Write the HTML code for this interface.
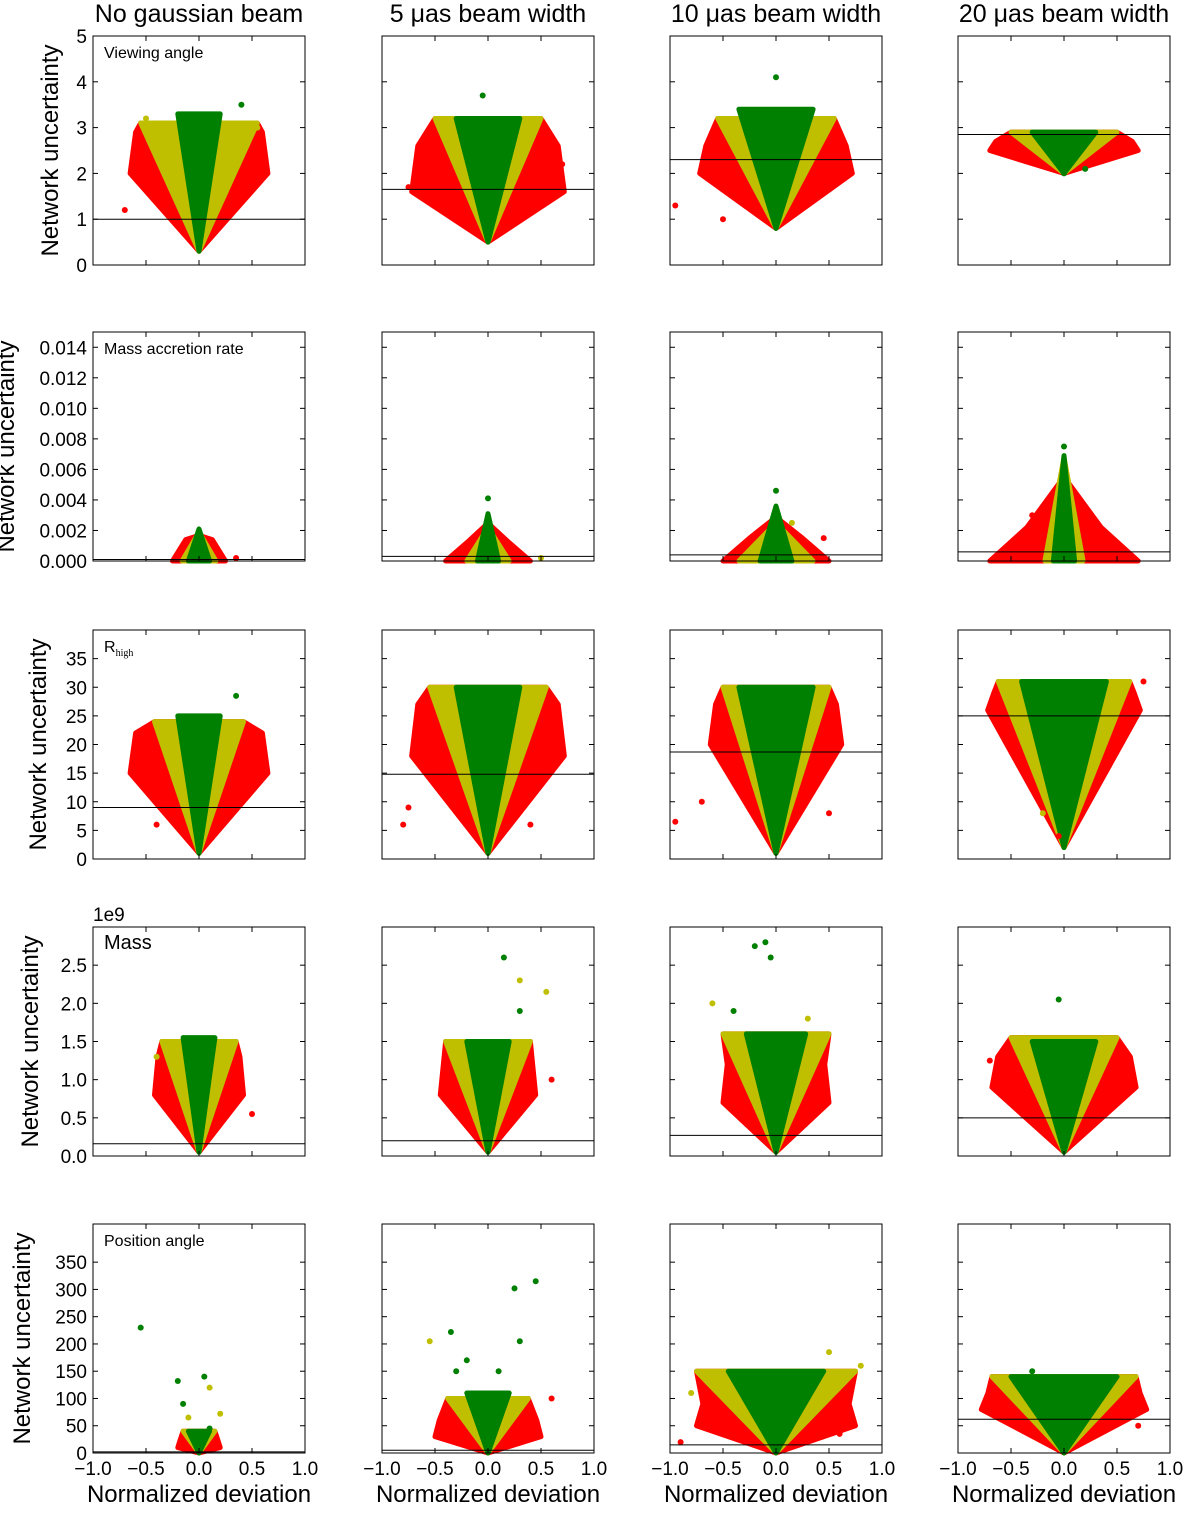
<!DOCTYPE html>
<html><head><meta charset="utf-8"><style>
body{margin:0;background:#fff}
svg text{font-family:"Liberation Sans","DejaVu Sans",sans-serif}
</style></head><body>
<svg id="fig" width="1200" height="1509" xmlns="http://www.w3.org/2000/svg"></svg>
<script>
const colTitles=["No gaussian beam","5 μas beam width","10 μas beam width","20 μas beam width"];
const rowLabels=["Viewing angle","Mass accretion rate","R_high","Mass","Position angle"];
const yMax=[5,0.015,40,3.0,420];
const yTicks=[[0,1,2,3,4,5],[0,0.002,0.004,0.006,0.008,0.010,0.012,0.014],[0,5,10,15,20,25,30,35],[0,0.5,1.0,1.5,2.0,2.5],[0,50,100,150,200,250,300,350]];
const yTickLabels=[["0","1","2","3","4","5"],["0.000","0.002","0.004","0.006","0.008","0.010","0.012","0.014"],["0","5","10","15","20","25","30","35"],["0.0","0.5","1.0","1.5","2.0","2.5"],["0","50","100","150","200","250","300","350"]];
const xTicks=[-1,-0.5,0,0.5,1];
const xTickLabels=["−1.0","−0.5","0.0","0.5","1.0"];
// per panel: [apex, topG, gw, topY, yw, topR, rw, rAtY, hline]
const vParams=[
 [[0.3,3.3,0.2,3.1,0.55,2.9,0.65,2.0,1.0],[0.5,3.2,0.3,3.2,0.5,2.6,0.72,1.6,1.65],[0.8,3.4,0.35,3.2,0.55,2.6,0.72,2.0,2.3],[2.0,2.9,0.3,2.9,0.5,2.7,0.7,2.5,2.85]],
 [[0,0.0021,0.1,0.0019,0.16,0.0014,0.25,0.0,0.0001],[0,0.0031,0.1,0.0022,0.2,0.0012,0.4,0.0,0.0003],[0,0.0036,0.15,0.0025,0.35,0.0015,0.5,0.0,0.0004],[0,0.0069,0.1,0.0068,0.18,0.0022,0.7,0.0,0.0006]],
 [[1,25,0.2,24,0.42,22,0.65,15,9],[1,30,0.3,30,0.55,27,0.72,18,14.8],[1,30,0.35,30,0.5,27,0.62,20,18.7],[2,31,0.4,31,0.62,29,0.72,26,25]],
 [[0.05,1.55,0.15,1.5,0.35,1.3,0.42,0.8,0.16],[0.05,1.5,0.2,1.5,0.4,1.3,0.45,0.8,0.2],[0.05,1.6,0.28,1.6,0.5,1.2,0.5,0.7,0.27],[0.05,1.5,0.3,1.55,0.5,1.3,0.68,0.9,0.5]],
 [[0,40,0.1,40,0.15,20,0.2,10,2],[0,110,0.2,100,0.38,60,0.5,30,5],[0,150,0.45,150,0.75,90,0.75,50,15],[0,140,0.5,140,0.68,110,0.78,80,62]]
];
const outliers=[
 [[[0.4,3.5,'g'],[-0.5,3.2,'y'],[0.55,3.0,'y'],[-0.7,1.2,'r'],[0.6,2.6,'r']],[[-0.05,3.7,'g'],[-0.75,1.7,'r'],[0.7,2.2,'r']],[[0,4.1,'g'],[-0.95,1.3,'r'],[-0.5,1.0,'r']],[[0,2.0,'g'],[0.2,2.1,'g']]],
 [[[0.35,0.0002,'r']],[[0,0.0041,'g'],[0.5,0.0002,'y']],[[0,0.0046,'g'],[0.45,0.0015,'r'],[0.15,0.0025,'y']],[[0,0.0075,'g'],[-0.3,0.003,'r']]],
 [[[0.35,28.5,'g'],[-0.6,20,'r'],[0.6,16,'r'],[-0.4,6,'r']],[[-0.75,9,'r'],[-0.8,6,'r'],[0.4,6,'r']],[[-0.95,6.5,'r'],[-0.7,10,'r'],[0.5,8,'r']],[[0.2,22,'g'],[-0.1,12,'g'],[-0.2,8,'y'],[-0.05,4,'r'],[0.75,31,'r']]],
 [[[0.5,0.55,'r'],[-0.4,1.3,'y']],[[0.15,2.6,'g'],[0.3,2.3,'y'],[0.55,2.15,'y'],[0.3,1.9,'g'],[0.6,1.0,'r'],[-0.3,1.4,'y']],[[-0.2,2.75,'g'],[-0.1,2.8,'g'],[-0.05,2.6,'g'],[-0.6,2.0,'y'],[0.3,1.8,'y'],[-0.4,1.9,'g']],[[-0.05,2.05,'g'],[0.6,1.3,'r'],[-0.7,1.25,'r']]],
 [[[-0.55,230,'g'],[-0.2,132,'g'],[0.05,140,'g'],[0.1,120,'y'],[-0.15,90,'g'],[0.2,72,'y'],[0.1,45,'g'],[-0.1,65,'y']],[[0.45,315,'g'],[0.25,302,'g'],[-0.35,222,'g'],[-0.55,205,'y'],[-0.3,150,'g'],[0.3,205,'g'],[0.6,100,'r'],[-0.2,170,'g'],[0.1,150,'g']],[[0.8,160,'y'],[0.5,185,'y'],[-0.8,110,'y'],[-0.9,20,'r'],[0.6,35,'r']],[[-0.3,150,'g'],[0.7,50,'r']]]
];
const colors={g:'#008000',y:'#bfbf00',r:'#ff0000'};
const panelX=[93,382,670,958], panelY=[36,332,630,927,1224], PW=212, PH=229;
const NS="http://www.w3.org/2000/svg", svg=document.getElementById('fig');
function mk(tag,attrs,parent){const e=document.createElementNS(NS,tag);for(const k in attrs)e.setAttribute(k,attrs[k]);(parent||svg).appendChild(e);return e;}
for(let c=0;c<4;c++){
 const t=mk('text',{x:panelX[c]+PW/2,y:22,'text-anchor':'middle','font-size':25});
 t.textContent=colTitles[c];
 
 
}
for(let r=0;r<5;r++){
 const lx=[58,14,46,38,30][r];
 const yl=mk('text',{x:lx,y:panelY[r]+PH/2,'text-anchor':'middle','font-size':24,transform:`rotate(-90 ${lx} ${panelY[r]+PH/2})`});
 yl.textContent='Network uncertainty';
 
 
 for(let c=0;c<4;c++){
  const x0=panelX[c],y0=panelY[r];
  const X=v=>x0+(v+1)/2*PW, Y=v=>y0+PH-v/yMax[r]*PH;
  const g=mk('g',{});
  
  
  const [ap,tg,gw,ty,yw,tr,rw,ry,hl]=vParams[r][c];
  const sw=5;
  let red;
  if(r===1) red=`${X(-rw)},${Y(0)} ${X(-rw*0.5)},${Y(tr)} ${X(0)},${Y(tg*0.8)} ${X(rw*0.5)},${Y(tr)} ${X(rw)},${Y(0)}`;
  else red=`${X(0)},${Y(ap)} ${X(rw)},${Y(ry)} ${X(rw*0.92)},${Y(tr)} ${X(yw)},${Y(ty)} ${X(-yw)},${Y(ty)} ${X(-rw*0.92)},${Y(tr)} ${X(-rw)},${Y(ry)}`;
  const pr=mk('polygon',{points:red,fill:colors.r,stroke:colors.r,'stroke-width':sw,'stroke-linejoin':'round'},g);
  
  
  let yel=r===1?`${X(-yw)},${Y(0)} ${X(0)},${Y(ty)} ${X(yw)},${Y(0)}`:`${X(0)},${Y(ap)} ${X(yw)},${Y(ty)} ${X(-yw)},${Y(ty)}`;
  const py=mk('polygon',{points:yel,fill:colors.y,stroke:colors.y,'stroke-width':sw,'stroke-linejoin':'round'},g);
  
  
  let grn=r===1?`${X(-gw)},${Y(0)} ${X(0)},${Y(tg)} ${X(gw)},${Y(0)}`:`${X(0)},${Y(ap)} ${X(gw)},${Y(tg)} ${X(-gw)},${Y(tg)}`;
  const pg=mk('polygon',{points:grn,fill:colors.g,stroke:colors.g,'stroke-width':sw,'stroke-linejoin':'round'},g);
  
  
  for(const [ox,oy,oc] of outliers[r][c]){
   const d=mk('circle',{cx:X(ox),cy:Y(oy),r:3,fill:colors[oc]},g);
   
   
  }
  const hline=mk('line',{x1:x0,x2:x0+PW,y1:Y(hl),y2:Y(hl),stroke:'#000','stroke-width':1},g);
  
  
  const fr=mk('rect',{x:x0,y:y0,width:PW,height:PH,fill:'none',stroke:'#000','stroke-width':1},g);
  
  
  for(const tv of xTicks){mk('line',{x1:X(tv),x2:X(tv),y1:y0+PH,y2:y0+PH-5,stroke:'#000'},g);mk('line',{x1:X(tv),x2:X(tv),y1:y0,y2:y0+5,stroke:'#000'},g);}
  yTicks[r].forEach((tv,i)=>{
   mk('line',{x1:x0,x2:x0+5,y1:Y(tv),y2:Y(tv),stroke:'#000'},g);
   mk('line',{x1:x0+PW,x2:x0+PW-5,y1:Y(tv),y2:Y(tv),stroke:'#000'},g);
   if(c===0){
    const tl=mk('text',{x:x0-6,y:Y(tv)+7,'text-anchor':'end','font-size':19},g);
    tl.textContent=yTickLabels[r][i];
    
    
   }
  });
  if(c===0){
   const lt=mk('text',{x:x0+11,y:y0+22,'font-size':r===3?20:16},g);
   if(r===2){lt.innerHTML='R<tspan font-size="10" dy="4" font-family="Liberation Serif">high</tspan>';}
   else lt.textContent=rowLabels[r];
   
   
   if(r===3){const e=mk('text',{x:x0,y:y0-6,'font-size':19},g);e.textContent='1e9';
    }
  }
  if(r===4){
   xTicks.forEach((tv,i)=>{const xl=mk('text',{x:X(tv),y:1475,'text-anchor':'middle','font-size':19},g);xl.textContent=xTickLabels[i];
    });
   const xt=mk('text',{x:x0+PW/2,y:1502,'text-anchor':'middle','font-size':24},g);xt.textContent='Normalized deviation';
   
  }
 }
}
</script>
</body></html>
